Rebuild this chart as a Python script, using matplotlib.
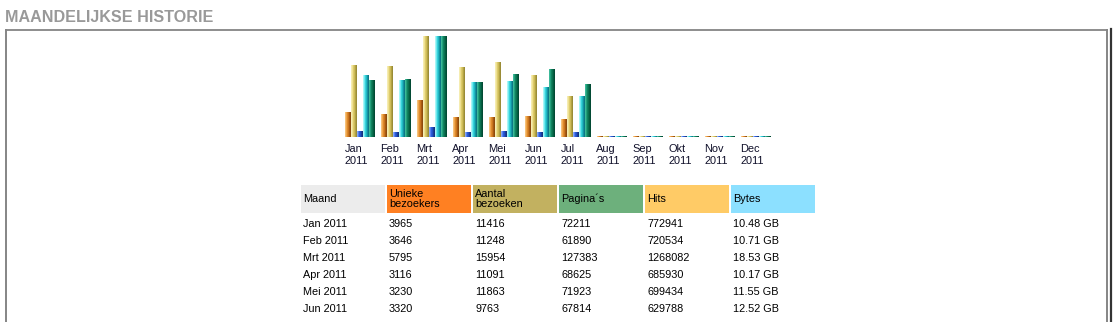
import matplotlib
matplotlib.use('Agg')
from matplotlib import pyplot as plt
from matplotlib.patches import Rectangle
from matplotlib.lines import Line2D

plt.rcParams['font.family'] = ['Liberation Sans', 'DejaVu Sans']

months = ['Jan', 'Feb', 'Mrt', 'Apr', 'Mei', 'Jun', 'Jul', 'Aug', 'Sep', 'Okt', 'Nov', 'Dec']
year = '2011'
visitors = [3965, 3646, 5795, 3116, 3230, 3320, 2840, 0, 0, 0, 0, 0]
visits = [11416, 11248, 15954, 11091, 11863, 9763, 6480, 0, 0, 0, 0, 0]
pages = [72211, 61890, 127383, 68625, 71923, 67814, 64000, 0, 0, 0, 0, 0]
hits = [772941, 720534, 1268082, 685930, 699434, 629788, 515000, 0, 0, 0, 0, 0]
bytes_gb = [10.48, 10.71, 18.53, 10.17, 11.55, 12.52, 9.72, 0, 0, 0, 0, 0]

headers = ['Maand', 'Unieke\nbezoekers', 'Aantal\nbezoeken', 'Pagina\u00b4s', 'Hits', 'Bytes']
header_colors = ['#ECECEC', '#FF8022', '#C2B160', '#6DB07C', '#FFCB66', '#8CE0FF']

# kleuren van de staafjes, van links (licht) naar rechts (donker)
bar_shades = [
    ('#F6C27A', '#EFA650', '#DC8A2C', '#C87420', '#A85A12', '#8E4A0C'),   # bezoekers
    ('#F5ECB0', '#EEE092', '#DCCB6C', '#CDBB58', '#B2A244', '#9A8C36'),   # bezoeken
    ('#86A6F6', '#5580EC', '#2C5CDA', '#2250C2', '#1A3C9C', '#14307E'),   # pagina's
    ('#A8F6F6', '#70E8EE', '#36D2DA', '#22B6C2', '#1494A2', '#0C7886'),   # hits
    ('#3CB898', '#22A07C', '#12825E', '#0A7050', '#045C40', '#024A34'),   # bytes
]

W, H = 1115, 322
fig = plt.figure(figsize=(W / 100, H / 100), dpi=100)


def fx(px):
    return px / W


def fy(py):
    return 1 - py / H


# titel en kader
fig.text(fx(5), fy(17), 'MAANDELIJKSE HISTORIE', fontsize=11.6, fontweight='bold',
         color='#999999', va='center', ha='left')
box_c = '#858585'
fig.add_artist(Line2D([fx(6), fx(1107)], [fy(30), fy(30)], color=box_c, lw=1.3))
fig.add_artist(Line2D([fx(6), fx(6)], [fy(30), 0], color=box_c, lw=1.4))
fig.add_artist(Line2D([fx(1107), fx(1107)], [fy(30), 0], color=box_c, lw=1.4))
fig.add_artist(Line2D([fx(1110.5), fx(1110.5)], [fy(29), 0], color='#333333', lw=1.6))

# staafgrafiek
ax = fig.add_axes([fx(345), fy(137), 426 / W, 101 / H])
ax.set_xlim(0, 71)
ax.set_ylim(0, 1)
ax.axis('off')

series = [
    (visitors, max(visits)),
    (visits, max(visits)),
    (pages, max(hits)),
    (hits, max(hits)),
    (bytes_gb, max(bytes_gb)),
]
min_h = 1 / 101
for j, (vals, top) in enumerate(series):
    heights = [max(v / top, min_h) for v in vals]
    n = len(bar_shades[j])
    for k, shade in enumerate(bar_shades[j]):
        xs = [i * 6 + j + k / n for i in range(len(months))]
        ax.bar(xs, heights, width=1 / n, align='edge', color=shade,
               linewidth=0, antialiased=False)

for i, m in enumerate(months):
    ax.text(i * 6 - 0.1, -0.07, m + '\n' + year, fontsize=7.9, color='#10102A',
            ha='left', va='top', linespacing=1.3)

# tabel (onderaan afgesneden)
tab = fig.add_axes([fx(301), 0, 514 / W, (H - 185) / H])
tab.set_xlim(0, 514)
tab.set_ylim(H - 185, 0)
tab.axis('off')

for c, (hdr, col) in enumerate(zip(headers, header_colors)):
    tab.add_patch(Rectangle((c * 86, 0), 84, 28, facecolor=col, edgecolor='none'))
    tab.text(c * 86 + 2, 14, hdr, fontsize=7.8, ha='left', va='center',
             linespacing=1.1, color='#000000')

rows = []
for i in range(6):
    rows.append([
        months[i] + ' ' + year,
        str(visitors[i]),
        str(visits[i]),
        str(pages[i]),
        str(hits[i]),
        '%.2f GB' % bytes_gb[i],
    ])

for r, row in enumerate(rows):
    for c, cell in enumerate(row):
        tab.text(c * 86 + 2, 39 + r * 17, cell, fontsize=7.8, ha='left',
                 va='center', color='#000000')

fig.savefig('out.png', dpi=100)
